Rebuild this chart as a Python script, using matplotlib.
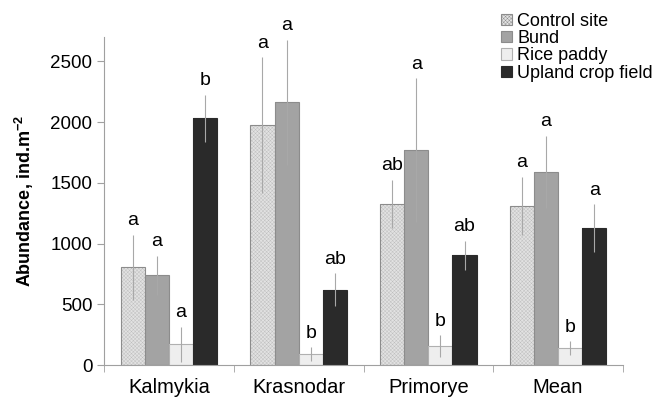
import matplotlib
matplotlib.use("Agg")
import matplotlib.pyplot as plt
import numpy as np

plt.rcParams["font.family"] = ["Liberation Sans", "DejaVu Sans"]
plt.rcParams["hatch.linewidth"] = 0.3

# Data
regions = ["Kalmykia", "Krasnodar", "Primorye", "Mean"]
series = ["Control site", "Bund", "Rice paddy", "Upland crop field"]

control = [805, 1975, 1325, 1310]
bund = [740, 2165, 1770, 1590]
rice = [170, 90, 155, 140]
upland = [2030, 620, 905, 1130]

control_err = [270, 560, 200, 240]
bund_err = [160, 515, 590, 300]
rice_err = [145, 55, 90, 55]
upland_err = [195, 135, 120, 195]

control_lbl = ["a", "a", "ab", "a"]
bund_lbl = ["a", "a", "a", "a"]
rice_lbl = ["a", "b", "b", "b"]
upland_lbl = ["b", "ab", "ab", "a"]

values = [control, bund, rice, upland]
errors = [control_err, bund_err, rice_err, upland_err]
letters = [control_lbl, bund_lbl, rice_lbl, upland_lbl]

colors = ["#e2e2e2", "#a3a3a3", "#eeeeee", "#2a2a2a"]
hatches = ["xxxxxxxxx", None, None, None]
hatch_cols = ["#bdbdbd", "#a3a3a3", "#eeeeee", "#2a2a2a"]
edges = ["#8c8c8c", "#8c8c8c", "#b0b0b0", "#2a2a2a"]

fig = plt.figure(figsize=(6.55, 3.99), dpi=100)
ax = fig.add_axes([0.159, 0.085, 0.792, 0.822])

x = np.arange(len(regions))
width = 0.186
offsets = (np.arange(4) - 1.5) * width

handles = []
for i in range(4):
    # fill + hatch first (hatch takes the edge colour), then the outline
    b = ax.bar(x + offsets[i], values[i], width, color=colors[i],
               edgecolor=hatch_cols[i], linewidth=0, hatch=hatches[i],
               label=series[i], zorder=2)
    ax.bar(x + offsets[i], values[i], width, fill=False,
           edgecolor=edges[i], linewidth=0.8, zorder=2)
    handles.append(b)
    ax.errorbar(x + offsets[i], values[i], yerr=errors[i], fmt="none",
                ecolor="#a8a8a8", elinewidth=0.8, capsize=0, zorder=3)
    for xi, v, e, t in zip(x + offsets[i], values[i], errors[i], letters[i]):
        ax.text(xi, v + e + 45, t, ha="center", va="bottom", fontsize=14)

ax.set_xlim(-0.5, 3.5)
ax.set_ylim(0, 2700)
ax.set_yticks([0, 500, 1000, 1500, 2000, 2500])
ax.set_xticks(x)
ax.set_xticklabels(regions, fontsize=14.5)
ax.set_xticks(np.arange(-0.5, 4.0, 1.0), minor=True)
ax.tick_params(axis="x", which="major", length=0, pad=9)
ax.tick_params(axis="x", which="minor", length=5, color="#a0a0a0")
ax.tick_params(axis="y", labelsize=13.5, length=5, color="#a0a0a0")
ax.set_ylabel("Abundance, ind.m$^{\\mathregular{-2}}$", fontsize=13,
              fontweight="bold", labelpad=10)

for s in ["top", "right"]:
    ax.spines[s].set_visible(False)
for s in ["left", "bottom"]:
    ax.spines[s].set_color("#a0a0a0")

leg = fig.legend(handles=handles, loc="upper right",
                 bbox_to_anchor=(1.016, 1.0), frameon=False, fontsize=13,
                 handlelength=0.6, handleheight=0.6, handletextpad=0.3,
                 labelspacing=0.02, borderaxespad=0.3)
for h, ec in zip(leg.legend_handles, edges):
    h.set_edgecolor(ec)
    h.set_linewidth(0.8)

fig.savefig("out.png", dpi=100)
